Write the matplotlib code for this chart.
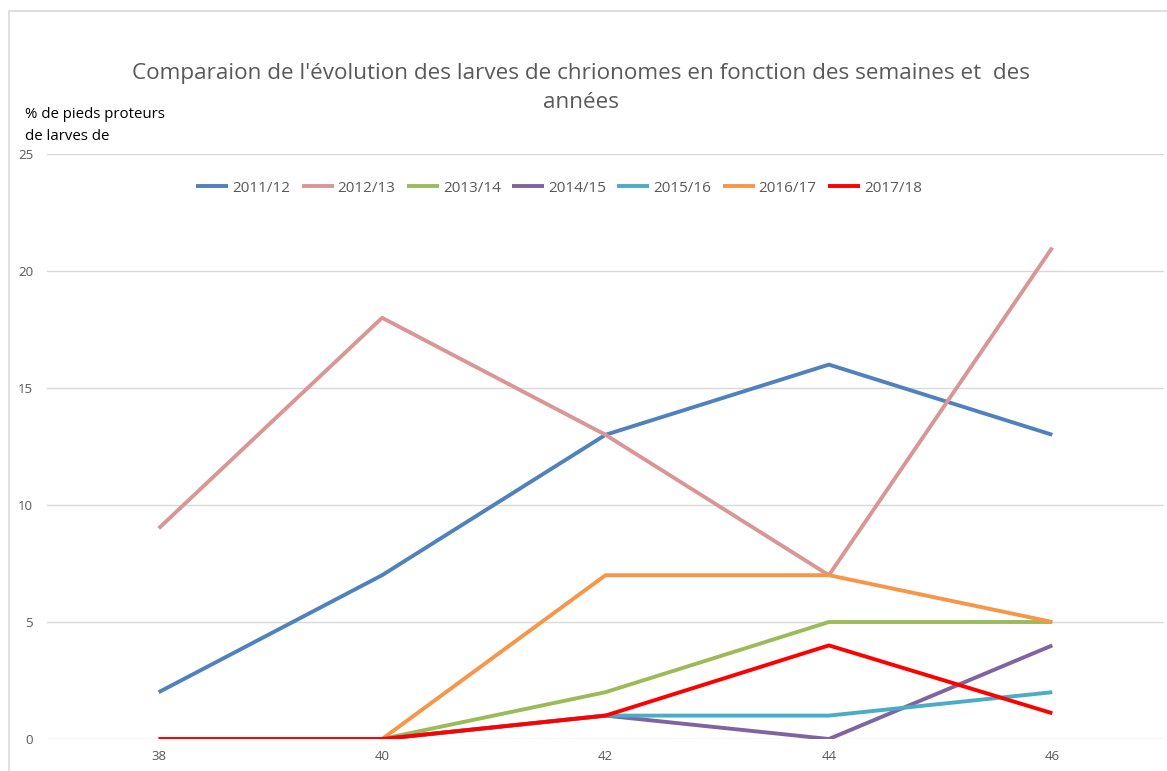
import matplotlib
matplotlib.use("Agg")
import matplotlib.pyplot as plt
from matplotlib.patches import Rectangle

weeks = [38, 40, 42, 44, 46]
series_names = ["2011/12", "2012/13", "2013/14", "2014/15", "2015/16", "2016/17", "2017/18"]
s2011 = [2, 7, 13, 16, 13]
s2012 = [9, 18, 13, 7, 21]
s2013 = [0, 0, 2, 5, 5]
s2014 = [0, 0, 1, 0, 4]
s2015 = [0, 0, 1, 1, 2]
s2016 = [0, 0, 7, 7, 5]
s2017 = [0, 0, 1, 4, 1.1]
values = [s2011, s2012, s2013, s2014, s2015, s2016, s2017]
colors = ["#4F81BD", "#D99694", "#9BBB59", "#8064A2", "#4BACC6", "#F79646", "#FF0000"]
yticks = [0, 5, 10, 15, 20, 25]

plt.rcParams['font.family'] = ['Open Sans', 'DejaVu Sans']

W, H = 1167, 771
fig = plt.figure(figsize=(W / 100, H / 100), dpi=100)
fig.patches.append(Rectangle((9 / W, -0.01), 1.02 - 9 / W, 1 - 11 / H + 0.01,
                             transform=fig.transFigure, fill=False,
                             edgecolor="#D9D9D9", linewidth=1.2))

ax = fig.add_axes([47 / W, (H - 739) / H, (1164 - 47) / W, (739 - 154) / H])
for name, vals, c in zip(series_names, values, colors):
    ax.plot(weeks, vals, color=c, linewidth=2.8, label=name, solid_capstyle='butt')

ax.set_xlim(37, 47)
ax.set_ylim(0, 25)
ax.set_xticks(weeks)
ax.set_yticks(yticks)
ax.grid(axis='y', color="#D9D9D9", linewidth=1)
ax.set_axisbelow(True)
for s in ax.spines.values():
    s.set_visible(False)
ax.tick_params(length=0, labelsize=9.5, colors="#595959", pad=8)
ax.tick_params(axis='y', pad=10)

fig.text(581 / W, 1 - 73 / H, "Comparaion de l'évolution des larves de chrionomes en fonction des semaines et  des",
         ha='center', va='center', fontsize=16.2, color="#595959")
fig.text(581 / W, 1 - 102 / H, "années", ha='center', va='center', fontsize=16.2, color="#595959")
fig.text(25 / W, 1 - 115 / H, "% de pieds proteurs", ha='left', va='center', fontsize=10.8, color="black")
fig.text(25 / W, 1 - 137 / H, "de larves de", ha='left', va='center', fontsize=10.8, color="black")

leg = ax.legend(loc='center', bbox_to_anchor=((559 - 47) / (1164 - 47), (739 - 188) / (739 - 154)),
                ncol=7, frameon=False, fontsize=11, handlelength=2.1, handletextpad=0.25,
                columnspacing=0.75)
for t in leg.get_texts():
    t.set_color("#595959")

fig.savefig("out.png", dpi=100)
